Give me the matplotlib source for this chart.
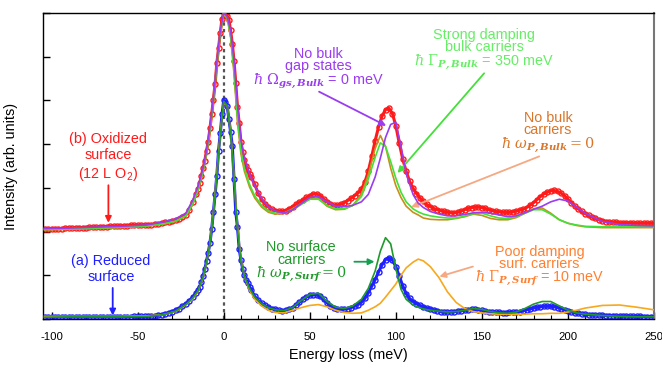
import numpy as np
import matplotlib
matplotlib.use("Agg")
import matplotlib.pyplot as plt

plt.rcParams['font.family'] = ['Liberation Sans', 'DejaVu Sans']
plt.rcParams['mathtext.fontset'] = 'dejavuserif'

# ---------------- data ----------------
x_data = np.concatenate([np.arange(-104, -15, 2), np.arange(-15, 16, 1), np.arange(16, 251, 2)])

red_oxidized = [
    2.06, 2.06, 2.07, 2.07, 2.07, 2.07, 2.08, 2.08, 2.08, 2.08,
    2.09, 2.09, 2.09, 2.10, 2.10, 2.10, 2.11, 2.11, 2.11, 2.12,
    2.12, 2.12, 2.13, 2.13, 2.13, 2.14, 2.14, 2.14, 2.15, 2.15,
    2.16, 2.16, 2.17, 2.18, 2.20, 2.21, 2.22, 2.24, 2.26, 2.29,
    2.33, 2.38, 2.50, 2.68, 2.85,
    2.98, 3.10, 3.27, 3.45, 3.62, 3.85, 4.05, 4.36, 4.68, 5.02,
    5.38, 5.85, 6.20, 6.55, 6.86, 7.00, 6.97, 6.93, 6.85, 6.60,
    6.30, 5.90, 5.40, 4.85, 4.48, 4.05, 3.82, 3.64, 3.50, 3.40, 3.32,
    3.24, 3.08, 2.88, 2.74, 2.63, 2.56, 2.51, 2.48, 2.46, 2.46,
    2.48, 2.52, 2.57, 2.62, 2.67, 2.72, 2.78, 2.82, 2.86, 2.86,
    2.82, 2.75, 2.68, 2.63, 2.60, 2.60, 2.62, 2.66, 2.71, 2.76,
    2.82, 2.88, 2.97, 3.13, 3.38, 3.72, 4.08, 4.40, 4.64, 4.79,
    4.82, 4.70, 4.42, 4.02, 3.66, 3.38, 3.15, 2.99, 2.87, 2.77,
    2.69, 2.62, 2.57, 2.53, 2.50, 2.48, 2.46, 2.44, 2.43, 2.43,
    2.44, 2.47, 2.50, 2.53, 2.55, 2.56, 2.56, 2.55, 2.53, 2.50,
    2.48, 2.46, 2.45, 2.44, 2.44, 2.44, 2.45, 2.47, 2.49, 2.51,
    2.55, 2.60, 2.66, 2.73, 2.80, 2.86, 2.90, 2.93, 2.94, 2.92,
    2.88, 2.82, 2.74, 2.66, 2.58, 2.52, 2.46, 2.41, 2.37, 2.33,
    2.30, 2.27, 2.25, 2.23, 2.22, 2.21, 2.21, 2.20, 2.20, 2.20,
    2.20, 2.19, 2.19, 2.19, 2.19, 2.19, 2.19, 2.19,
]

blue_reduced = [
    0.05, 0.05, 0.05, 0.05, 0.05, 0.05, 0.05, 0.05, 0.05, 0.05,
    0.05, 0.05, 0.05, 0.05, 0.05, 0.05, 0.05, 0.05, 0.05, 0.05,
    0.05, 0.05, 0.05, 0.05, 0.05, 0.05, 0.06, 0.06, 0.06, 0.06,
    0.07, 0.07, 0.08, 0.09, 0.10, 0.12, 0.14, 0.17, 0.20, 0.24,
    0.29, 0.35, 0.42, 0.50, 0.60,
    0.66, 0.74, 0.84, 0.98, 1.14, 1.32, 1.52, 1.74, 2.05, 2.45,
    2.85, 3.28, 3.85, 4.25, 4.68, 5.00, 4.97, 4.87, 4.58, 4.28,
    3.95, 3.20, 2.45, 2.10, 1.60, 1.35, 1.15, 1.00, 0.90, 0.82, 0.74,
    0.66, 0.52, 0.43, 0.36, 0.31, 0.27, 0.24, 0.22, 0.20, 0.19,
    0.20, 0.22, 0.26, 0.32, 0.38, 0.45, 0.50, 0.54, 0.56, 0.55,
    0.52, 0.45, 0.37, 0.30, 0.25, 0.23, 0.22, 0.23, 0.24, 0.26,
    0.29, 0.33, 0.38, 0.47, 0.60, 0.75, 0.90, 1.08, 1.24, 1.36,
    1.40, 1.35, 1.20, 0.98, 0.76, 0.58, 0.47, 0.40, 0.35, 0.31,
    0.28, 0.25, 0.23, 0.21, 0.19, 0.17, 0.16, 0.16, 0.16, 0.17,
    0.18, 0.19, 0.20, 0.21, 0.22, 0.22, 0.21, 0.20, 0.18, 0.17,
    0.16, 0.15, 0.15, 0.14, 0.14, 0.15, 0.15, 0.16, 0.17, 0.19,
    0.21, 0.23, 0.25, 0.27, 0.28, 0.29, 0.29, 0.29, 0.28, 0.26,
    0.24, 0.21, 0.18, 0.16, 0.14, 0.13, 0.12, 0.11, 0.10, 0.10,
    0.09, 0.09, 0.09, 0.08, 0.08, 0.08, 0.07, 0.07, 0.07, 0.07,
    0.06, 0.06, 0.06, 0.06, 0.05, 0.05, 0.05, 0.05,
]

x_model = [-104, -90, -75, -60, -45, -35, -28, -22, -18, -15,
           -12, -10, -8, -6, -4, -2, 0, 2, 4, 6,
           8, 10, 12, 15, 18, 22, 26, 30, 35, 40,
           45, 50, 55, 60, 65, 70, 75, 80, 84, 88,
           91, 94, 97, 100, 103, 106, 110, 113, 116, 120,
           125, 130, 135, 140, 145, 150, 155, 160, 165, 170,
           175, 180, 185, 190, 195, 200, 205, 210, 220, 230,
           240, 250]

purple_no_bulk_gap = [
    2.07, 2.08, 2.10, 2.12, 2.15, 2.22, 2.29, 2.42, 2.72, 3.02,
    3.45, 3.85, 4.40, 5.05, 5.88, 6.60, 7.00, 6.92, 6.60, 5.90,
    4.90, 4.10, 3.68, 3.32, 3.05, 2.76, 2.56, 2.47, 2.42, 2.50,
    2.64, 2.78, 2.80, 2.68, 2.58, 2.57, 2.60, 2.68, 2.85, 3.25,
    3.68, 4.15, 4.45, 4.50, 3.95, 3.33, 2.85, 2.65, 2.55, 2.46,
    2.40, 2.36, 2.36, 2.39, 2.43, 2.44, 2.42, 2.38, 2.34, 2.36,
    2.43, 2.51, 2.58, 2.68, 2.74, 2.70, 2.56, 2.42, 2.23, 2.16,
    2.14, 2.13]

green_strong_damping_bulk = [
    2.05, 2.06, 2.08, 2.10, 2.13, 2.18, 2.24, 2.36, 2.64, 2.95,
    3.40, 3.80, 4.32, 5.00, 5.82, 6.55, 6.98, 6.90, 6.50, 5.70,
    4.60, 3.85, 3.45, 3.08, 2.82, 2.60, 2.47, 2.42, 2.42, 2.50,
    2.62, 2.74, 2.74, 2.60, 2.52, 2.52, 2.60, 2.80, 3.20, 3.70,
    4.03, 3.95, 3.60, 3.22, 2.90, 2.68, 2.52, 2.45, 2.40, 2.36,
    2.33, 2.31, 2.31, 2.35, 2.41, 2.42, 2.36, 2.31, 2.30, 2.34,
    2.42, 2.50, 2.50, 2.40, 2.27, 2.19, 2.15, 2.12, 2.11, 2.12,
    2.12, 2.12]

orange_no_bulk_carriers = [
    2.04, 2.05, 2.07, 2.09, 2.12, 2.17, 2.23, 2.35, 2.62, 2.93,
    3.37, 3.77, 4.30, 4.97, 5.80, 6.52, 6.96, 6.88, 6.45, 5.60,
    4.50, 3.78, 3.38, 3.02, 2.77, 2.56, 2.44, 2.40, 2.42, 2.52,
    2.64, 2.74, 2.76, 2.58, 2.50, 2.51, 2.60, 2.85, 3.30, 3.90,
    4.20, 3.95, 3.45, 3.05, 2.78, 2.58, 2.44, 2.38, 2.31, 2.28,
    2.27, 2.27, 2.30, 2.34, 2.40, 2.37, 2.30, 2.27, 2.27, 2.32,
    2.42, 2.52, 2.54, 2.42, 2.27, 2.19, 2.14, 2.11, 2.09, 2.09,
    2.09, 2.09]

green_no_surface_carriers = [
    0.04, 0.05, 0.05, 0.05, 0.06, 0.10, 0.18, 0.33, 0.48, 0.64,
    0.96, 1.30, 1.72, 2.40, 3.28, 4.20, 4.98, 4.88, 4.25, 3.20,
    2.05, 1.32, 0.98, 0.70, 0.50, 0.35, 0.26, 0.21, 0.19, 0.26,
    0.42, 0.56, 0.59, 0.40, 0.27, 0.24, 0.30, 0.45, 0.70, 1.10,
    1.55, 1.86, 1.72, 1.15, 0.68, 0.45, 0.32, 0.27, 0.23, 0.20,
    0.18, 0.16, 0.17, 0.20, 0.24, 0.22, 0.17, 0.14, 0.13, 0.16,
    0.24, 0.34, 0.40, 0.40, 0.30, 0.20, 0.14, 0.11, 0.08, 0.06,
    0.05, 0.05]

orange_poor_damping_surf = [
    0.06, 0.06, 0.06, 0.06, 0.07, 0.10, 0.17, 0.32, 0.46, 0.62,
    0.94, 1.28, 1.72, 2.45, 3.33, 4.25, 4.95, 4.88, 4.30, 3.25,
    2.12, 1.36, 0.98, 0.66, 0.45, 0.30, 0.20, 0.15, 0.14, 0.20,
    0.26, 0.31, 0.33, 0.28, 0.20, 0.15, 0.13, 0.14, 0.20, 0.28,
    0.36, 0.50, 0.65, 0.80, 1.00, 1.17, 1.30, 1.37, 1.33, 1.20,
    0.95, 0.62, 0.38, 0.24, 0.17, 0.14, 0.12, 0.11, 0.11, 0.11,
    0.11, 0.12, 0.12, 0.13, 0.13, 0.16, 0.20, 0.25, 0.31, 0.32,
    0.27, 0.21]

x_ticks = [-100, -50, 0, 50, 100, 150, 200, 250]
x_tick_labels = ['-100', '-50', '0', '50', '100', '150', '200', '250']

# ---------------- colours ----------------
C_RED = '#ff1a1a'
C_BLUE = '#1f1fff'
C_PURPLE = '#9a3cf0'
C_LGREEN = '#44e03a'
C_TOPORANGE = '#c98f1c'
C_DGREEN = '#1f9a2a'
C_BOTORANGE = '#f7a81b'

fig = plt.figure(figsize=(6.62, 3.65), dpi=100)
ax = fig.add_axes([43 / 662, 46 / 365, 611 / 662, 306 / 365])

ax.axvline(0, ymin=0, ymax=1, color='#555555', ls=(0, (1.5, 1.5)), lw=1.6, zorder=1)

# data markers
ax.plot(x_data, red_oxidized, 'o', mfc='none', mec=C_RED, ms=3.6, mew=1.0, zorder=2)
ax.plot(x_data, blue_reduced, 'o', mfc='none', mec=C_BLUE, ms=3.6, mew=1.0, zorder=2)
# fits
ax.plot(x_data, red_oxidized, '-', color=C_RED, lw=2.2, zorder=3)
ax.plot(x_data, blue_reduced, '-', color=C_BLUE, lw=2.2, zorder=3)
# model variants
ax.plot(x_model, orange_no_bulk_carriers, '-', color=C_TOPORANGE, lw=1.2, zorder=4)
ax.plot(x_model, green_strong_damping_bulk, '-', color=C_LGREEN, lw=1.2, zorder=4)
ax.plot(x_model, purple_no_bulk_gap, '-', color=C_PURPLE, lw=1.2, zorder=4)
ax.plot(x_model, orange_poor_damping_surf, '-', color=C_BOTORANGE, lw=1.2, zorder=4)
ax.plot(x_model, green_no_surface_carriers, '-', color=C_DGREEN, lw=1.2, zorder=4)

ax.set_xlim(-105, 250)
ax.set_ylim(0, 7)
ax.set_xticks(x_ticks)
ax.set_xticklabels(x_tick_labels)
ax.set_xticks(np.arange(-100, 251, 10), minor=True)
ax.set_yticks(np.arange(0, 8, 1))
ax.set_yticklabels([])
ax.tick_params(axis='both', which='major', direction='in', length=5, width=1, labelsize=8.2, pad=9)
ax.tick_params(axis='x', which='minor', direction='in', length=3, width=0.8)
ax.tick_params(top=False, right=False)
for s in ['left', 'bottom', 'top']:
    ax.spines[s].set_linewidth(1.0)
ax.spines['right'].set_color('#777777')
ax.spines['right'].set_linewidth(1.5)

ax.set_xlabel('Energy loss (meV)', fontsize=10.4, labelpad=5)
ax.set_ylabel('Intensity (arb. units)', fontsize=10.4, labelpad=9)

FS = 10.4
arrow = lambda c: dict(arrowstyle='-|>', color=c, lw=1.3, mutation_scale=9, shrinkA=0, shrinkB=0)

# left labels
ax.text(-67, 3.7, '(b) Oxidized\nsurface\n(12 L O$_\\mathregular{2}$)', color=C_RED, fontsize=FS,
        ha='center', va='center', linespacing=1.2)
ax.annotate('', xy=(-67, 2.2), xytext=(-67, 3.06), arrowprops=arrow(C_RED))
ax.text(-65.5, 1.15, '(a) Reduced\nsurface', color=C_BLUE, fontsize=FS,
        ha='center', va='center', linespacing=1.2)
ax.annotate('', xy=(-64.5, 0.08), xytext=(-64.5, 0.71), arrowprops=arrow(C_BLUE))

# purple
ax.text(55, 5.72, 'No bulk\ngap states\n$\\hbar\\ \\mathit{\\Omega}_{\\mathbfit{gs,Bulk}}$ = 0 meV',
        color=C_PURPLE, fontsize=FS, ha='center', va='center', linespacing=0.88)
ax.annotate('', xy=(94.4, 4.42), xytext=(55.4, 5.2), arrowprops=arrow(C_PURPLE))

# light green
ax.text(151.3, 6.16, 'Strong damping\nbulk carriers\n$\\hbar\\ \\mathit{\\Gamma}_{\\mathbfit{P,Bulk}}$ = 350 meV',
        color='#66ee66', fontsize=FS, ha='center', va='center', linespacing=0.85)
ax.annotate('', xy=(101, 3.34), xytext=(151.3, 5.62), arrowprops=arrow(C_LGREEN))

# top orange
ax.text(188.4, 4.26, 'No bulk\ncarriers\n$\\hbar\\ \\omega_{\\mathbfit{P,Bulk}} = 0$',
        color='#d9762a', fontsize=FS, ha='center', va='center', linespacing=0.85)
ax.annotate('', xy=(108.9, 2.56), xytext=(183.3, 3.72), arrowprops=arrow('#f5a882'))

# dark green
ax.text(45, 1.3, 'No surface\ncarriers\n$\\hbar\\ \\omega_{\\mathbfit{P,Surf}} = 0$',
        color=C_DGREEN, fontsize=FS, ha='center', va='center', linespacing=0.85)
ax.annotate('', xy=(87.6, 1.31), xytext=(75.9, 1.31), arrowprops=arrow('#12a050'))

# poor damping
ax.text(183.5, 1.2, 'Poor damping\nsurf. carriers\n$\\hbar\\ \\mathit{\\Gamma}_{\\mathbfit{P,Surf}}$ = 10 meV',
        color='#ff8030', fontsize=FS, ha='center', va='center', linespacing=0.85)
ax.annotate('', xy=(125.3, 0.97), xytext=(144.8, 1.2), arrowprops=arrow('#f5a882'))

fig.savefig('out.png', dpi=100)
